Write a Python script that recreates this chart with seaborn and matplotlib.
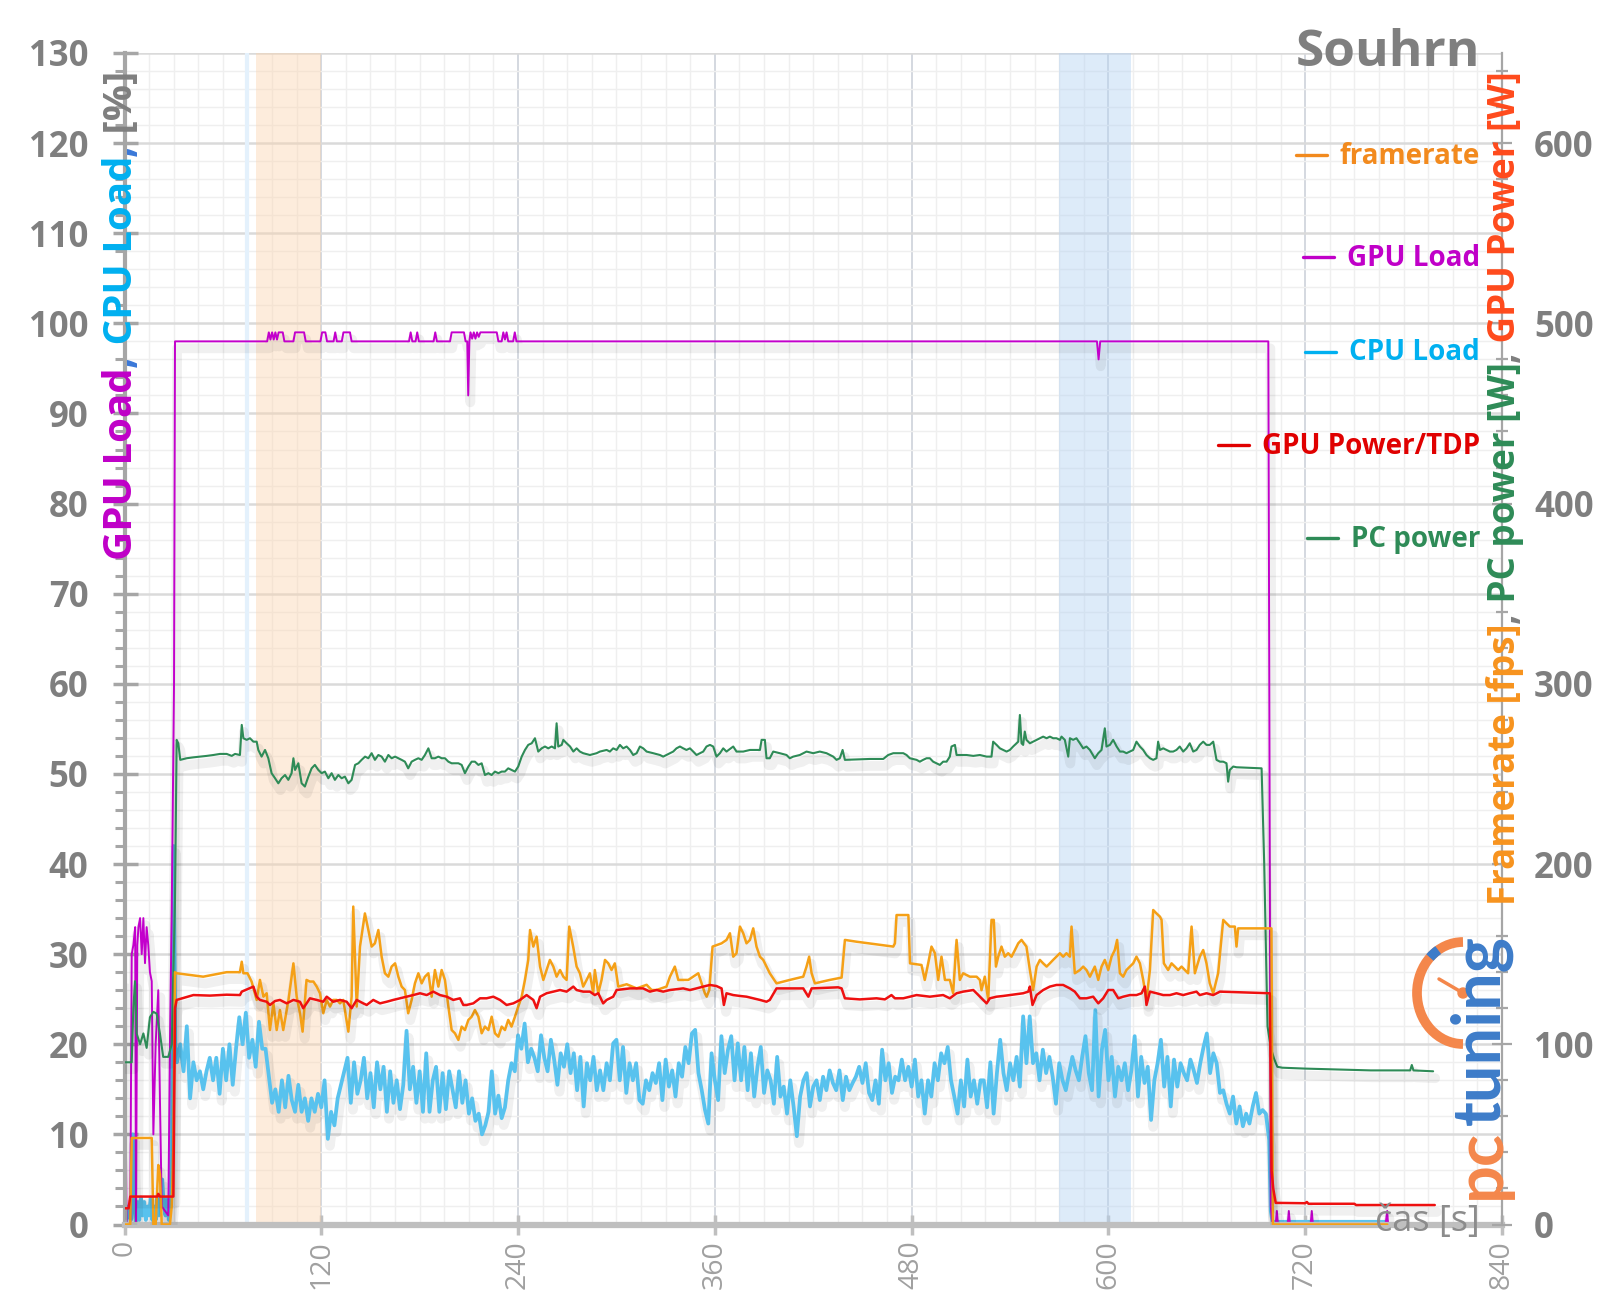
import numpy as np
import pandas as pd
import matplotlib
matplotlib.use("Agg")
import matplotlib.pyplot as plt
import seaborn as sns
from matplotlib.ticker import MultipleLocator, FixedLocator
from matplotlib.transforms import IdentityTransform
import matplotlib.patches as mpatches
import matplotlib.patheffects as pe
from matplotlib.lines import Line2D

# ---------------- DATA ----------------
# GPU Load [%] (time s, value)
gpu_load_pts = [
    (0, 27), (1.3, 0), (3.5, 0), (4.4, 30), (5.4, 31), (6.5, 33), (7, 0), (7.8, 31), (8.5, 33), (9.5, 34),
    (10.5, 30), (11.5, 34), (12.5, 29), (13.5, 33), (14.5, 31), (15.5, 28), (16.6, 27), (17.6, 10), (19, 20),
    (20.6, 26), (21.6, 14), (22.7, 2), (26.7, 1), (27.7, 20), (28.8, 35), (30.2, 60), (30.8, 98),
    (87, 98), (88, 99), (89, 98.2), (90, 99), (91, 98.2), (92, 99), (93, 98.2), (94, 99), (96.5, 99), (97.5, 98),
    (103, 98), (104, 99), (109.5, 99), (110.5, 98),
    (119.5, 98), (120.5, 99), (122.5, 99), (123.5, 98), (127.5, 98), (128.5, 99), (129.5, 98), (132.5, 98),
    (133.5, 99), (137.5, 99), (138.5, 98),
    (173.5, 98), (174.5, 99), (175.5, 98), (177.5, 98), (178.5, 99), (179.5, 98), (188.5, 98), (189.5, 99), (190.5, 98),
    (198.5, 98), (199.5, 99), (207, 99), (208, 98), (209, 98), (209.6, 92), (210.3, 98), (211, 99), (212, 98.3),
    (213, 99), (214, 98.3), (215, 99), (216, 98.5), (217, 99), (227, 99), (228, 98), (230, 98), (231, 99),
    (232, 98.2), (233, 99), (234, 98), (237, 98), (238, 99), (239, 98),
    (593, 98), (594, 96), (595, 98), (697.5, 98), (699, 2), (700, 0), (702, 0), (702.7, 1.5), (703.4, 0),
    (709.3, 0), (710, 1.5), (710.7, 0), (723.3, 0), (724, 1.5), (724.7, 0), (769, 0), (770, 1.5), (770.5, 0),
]

# CPU Load [%]: start-up part (time s, value)
cpu_start_pts = [
    (0, 3), (1, 0), (2, 2), (3, 1), (4, 0.5), (5, 10), (6, 2), (7, 0), (8, 2.5), (9, 0.5), (10, 3), (11, 1),
    (12, 2.5), (13, 0.5), (14, 2), (15, 1), (16, 3), (17, 0.5), (18, 2), (19, 0.5), (20, 3), (21, 1), (22, 2.5),
    (23, 5), (24, 2), (25, 1), (26, 3), (27, 0.5), (28, 3), (29, 25), (30, 42), (31, 20),
]
# CPU Load [%]: main part, one reading every 2 s from 32 s
cpu_main_start = 32
cpu_main_step = 2
cpu_main = [
    18, 20, 17, 22, 14, 18, 16, 17, 15, 17,
    18.5, 16, 18.5, 14.5, 19.5, 16, 20, 15.5, 19.5, 23,
    20, 23.5, 18.5, 20.5, 17.5, 22.5, 19.5, 19.5, 16.5, 13.5,
    15, 12.5, 16, 13, 16.5, 13.8, 12.5, 15.5, 12.5, 14,
    11.5, 14, 12.5, 14.5, 13, 16, 9.5, 12.5, 11, 14,
    15.5, 17, 18.5, 13.5, 18, 14.5, 16, 18.5, 14, 16.8,
    13, 18, 15, 17.5, 12.5, 17, 13.5, 16, 12.8, 15.5,
    21.5, 15, 17.5, 13.5, 17, 12.5, 19, 12.5, 16, 17.5,
    12.5, 16.8, 12.8, 17, 15, 13, 17, 13.5, 16, 12.3,
    14, 11.5, 12.3, 10, 11, 12.5, 17, 12.3, 14.3, 11.8,
    13, 16, 17.9, 17, 21, 19.5, 22.3, 18, 19.5, 18.5,
    17, 21, 18.5, 17, 20.5, 18.3, 15.5, 19, 17.5, 20,
    16.8, 19, 14.9, 18.6, 13.1, 17.9, 16, 18.6, 14.9, 17.1,
    14.9, 17.9, 16, 20.1, 20.5, 16, 19.7, 14.6, 17.9, 16,
    17.9, 13.8, 13.4, 16, 14.9, 16.8, 15.7, 17.9, 13.8, 18.3,
    15.3, 17.1, 14.2, 17.9, 16.4, 19.7, 17.9, 21.2, 21.6, 16.8,
    14.9, 12.7, 11.2, 19, 16, 13.8, 20.9, 16.8, 19.4, 20.9,
    16, 20.1, 16, 19.7, 14.9, 19, 14.2, 17.5, 19.7, 14.6,
    17.1, 16, 13.4, 18.6, 14.2, 15.3, 12.3, 16, 13.1, 9.8,
    14.2, 16, 16.8, 13.1, 15.3, 16, 13.8, 16.4, 14.9, 17.1,
    15.7, 14.9, 17.1, 13.8, 16.4, 14.9, 15.7, 16.4, 17.5, 15.7,
    17.9, 14.6, 13.8, 16, 13.4, 19.4, 16, 17.9, 14.6, 16.4,
    16, 18.3, 16, 17.5, 15.3, 18.3, 14.2, 16, 12.3, 16,
    14.2, 17.9, 16, 19, 17.9, 19.7, 16, 14.2, 12.3, 16,
    13.1, 18.3, 14.2, 16, 13.4, 16,
    16, 13, 18, 12.3, 16.8, 20.5, 16.8, 14.9, 17.9, 16,
    18.6, 15.3, 23.1, 17.9, 23.1, 17.9, 19, 16, 19.4, 16.8,
    18.6, 16.4, 13.4, 17.9, 16, 14.9, 16.8, 18.6, 17.1, 16,
    18.6, 20.9, 16.8, 14.9, 23.8, 14.2, 19.4, 21.6, 16, 18.6,
    14.2, 17.5, 16, 17.9, 14.9, 17.1, 20.9, 14.2, 18.6, 15.7,
    17.5, 11.6, 16, 17.9, 20.5, 15.3, 18.6, 13.1, 18.3, 15.3,
    17.9, 16.8, 16, 18.3, 17.1, 15.7, 17.9, 19.7, 21.2, 16.8,
    19, 17.9, 14.6, 14.9, 13.4, 12.3, 14.2, 11.2, 13.1, 10.9,
    12.3, 11.2, 13.1, 14.6, 12.3, 12.7, 12.3, 9.4,
]
cpu_end_pts = [(699, 1.5), (700, 0.3), (770, 0.3)]

# framerate [fps] (time s, value)
framerate_pts = [
    (0, 0), (3.5, 0), (4.4, 48), (16.6, 48), (17.6, 0), (19, 0), (20.6, 33), (21.6, 28), (22.7, 0), (27.7, 0),
    (28.8, 10), (29.8, 44), (30.8, 140),
    (31.8, 139.4), (48, 137.5), (62.3, 140), (70.4, 140), (71.5, 145.8), (72.5, 139.4), (75, 139.4),
    (77.5, 134.8), (80.6, 124.6), (82.6, 135.7), (84.7, 126.4), (86.7, 128.3), (88.7, 107.9), (90.8, 122.7),
    (92.8, 107.9), (94.8, 119), (96.8, 107.9), (100, 124.6), (103, 144.9), (105, 126.4), (107, 117.2),
    (108.6, 107), (111, 135.7), (113, 134.8), (115.2, 134.8), (117.2, 132), (119.2, 128.3), (121.2, 117.2),
    (123.3, 124.6), (125.3, 120.9), (127.3, 124.6), (129.4, 124.6), (131.4, 122.7), (133.4, 124.6),
    (136.5, 107), (138.5, 126.4), (139.5, 176.4), (141.6, 120.9), (143.6, 154.2), (146.6, 172.6),
    (148.7, 163.4), (150.7, 154.2), (152.7, 156), (154.8, 163.4), (156.8, 148.6), (158.8, 139.4),
    (160.9, 137.5), (162.9, 143.1), (165, 144.9), (167, 137.5), (169, 132), (171, 130.1), (173, 117.2),
    (175.1, 124.6), (177.1, 133.8), (179.2, 139.4), (181.2, 133.8), (183.2, 137.5), (185.3, 139.4),
    (187.3, 126.4), (189.3, 141.2), (191.4, 132), (193.4, 141.2), (195.4, 135.7), (197.5, 120.9),
    (199.5, 107.9), (201.5, 106.1), (203.6, 102.4), (205.6, 109.8), (207.6, 107.9), (209.7, 113.5),
    (211.7, 115.3), (213.7, 119), (215.8, 115.3), (217.8, 106.1), (219.8, 109.8), (221.9, 107.9),
    (223.9, 115.3), (225.9, 106.1), (228, 104.2), (230, 109.8), (232, 107.9), (234, 113.5), (236, 109.8),
    (238.1, 115.3), (240.1, 120.9), (242.2, 126.4), (244.2, 135.7), (246.2, 146.8), (247.3, 163.4),
    (249.3, 154.2), (251.3, 159.7), (253.4, 143.1), (255.4, 135.7), (257.4, 141.2), (259.4, 146.8),
    (261.5, 143.1), (263.5, 137.5), (265.6, 141.2), (267.6, 137.5), (269.6, 135.7), (271.2, 165.3),
    (273.6, 154.2), (275.7, 143.1), (277.7, 139.4), (279.7, 132), (281.8, 135.7), (283.8, 139.4),
    (285.8, 128.3), (286.8, 141.2), (288.9, 128.3), (290.9, 135.7), (293, 146.8), (295, 144.9),
    (297, 141.2), (299, 144.9), (301.1, 132), (306.2, 133.3), (312.3, 131), (318.4, 133), (321.4, 130.1),
    (324.4, 130.1), (330.5, 132), (332.6, 137.5), (335.6, 143.1), (337.7, 135.7), (343.8, 135.7),
    (349.9, 139.4), (351.9, 133.8), (353.9, 128.3), (355, 126.4), (356.6, 130.1), (358.6, 154.2),
    (364.1, 156), (367.1, 157.9), (369.2, 161.6), (371.2, 148.6), (373.2, 150.5), (375.3, 165.3),
    (377.3, 161.6), (379.3, 156), (381.4, 157.9), (383.4, 164.3), (385.4, 154.2), (387.5, 148.6),
    (389.5, 146.8), (391.5, 143.1), (393.5, 139.4), (397.6, 133.8), (405.7, 135.7), (413.9, 137.5),
    (415.9, 143.1), (417.5, 148.6), (419, 139.4), (421, 133.8), (430.1, 135.7), (437.3, 137),
    (439.3, 157.9), (446.4, 156.9), (468.8, 154.2), (469.8, 156), (470.8, 171.7), (478, 171.7),
    (479, 144.9), (486, 144), (488, 135.7), (490.1, 144.9), (492.1, 154.2), (494.2, 150.5), (496.2, 135.7),
    (498.2, 148.6), (500.3, 135.7), (503.3, 135.7), (505.3, 128.3), (507.4, 157.9), (509.4, 135.7),
    (511.4, 139.4), (515.5, 137.5), (519.6, 137.5), (521.6, 135.7), (522.6, 130), (524.6, 137.5),
    (526.7, 124.6), (528.7, 169), (530.1, 169), (531.4, 143.1), (532.8, 148.6), (534.8, 154.2),
    (536.8, 148.6), (538.9, 150.5), (540.9, 148.6), (543, 152.3), (545, 156), (547, 157.9), (550, 154.2),
    (552.1, 141.2), (554.1, 130.1), (556.2, 143.1), (558.2, 146.8), (560.2, 144.9), (562.3, 143.1),
    (564.3, 144.9), (566.3, 146.8), (568.3, 148.6), (570.4, 150.5), (572.4, 148.6), (574.4, 150.5),
    (576.5, 148.6), (577.5, 165.3), (579.5, 139.4), (582.6, 141.2), (584.6, 143.1), (586.6, 141.2),
    (588.7, 137.5), (591.7, 143.1), (593.8, 135.7), (595.8, 143.1), (597.8, 146.8), (599.9, 141.2),
    (601.9, 148.6), (603.9, 152.3), (605.3, 157.9), (607, 139.4), (609, 137.5), (611, 141.2),
    (613.1, 143.1), (615.1, 144.9), (617.1, 148.6), (619.2, 144.9), (621.2, 135.7), (623.2, 124.6),
    (625.3, 141.2), (627.3, 174.5), (629.3, 172.6), (631.4, 170.8), (632.4, 169), (633.8, 144.9),
    (636.4, 141.2), (638.5, 144.9), (640.5, 143.1), (642.5, 141.2), (644.6, 143.1), (646.6, 141.2),
    (648.6, 139.4), (650.7, 165.3), (652.7, 139.4), (655.7, 148.6), (657.8, 152.3), (659.8, 144.9),
    (661.8, 133.8), (663.9, 128.3), (666.9, 139.4), (670, 169), (672, 167.1), (674, 165.3),
    (677.1, 165.3), (678.1, 154.2), (679.1, 164.3), (699.4, 164.3), (700.3, 0), (770, 0),
]

# GPU Power [W] (time s, value)
gpu_power_pts = [
    (0, 9), (2.5, 9), (3.5, 15.5), (20, 15.5), (20.6, 17), (21.6, 15.5), (29.8, 15.5), (30.8, 120),
    (31.8, 124.6), (42, 127.3), (52.1, 127), (62.3, 127.5), (70.4, 127.3), (71.5, 129.2), (78.6, 132),
    (80.6, 126.4), (82.6, 124.6), (86.7, 123.6), (88.7, 121.8), (91.8, 124), (94.8, 124.6), (98.9, 122.7),
    (103, 124.6), (107, 123.6), (109, 120), (113.1, 125.5), (117.2, 124.6), (121.2, 123.6), (123.3, 126.4),
    (127.3, 123.6), (131.4, 124.6), (135.5, 123.6), (138.5, 120), (141.6, 124.6), (145.6, 122.7),
    (147.7, 121.8), (151.7, 124.6), (155.8, 122.7), (159.9, 123.6), (163.9, 124.6), (168, 125.5),
    (172, 126.4), (176.1, 127.3), (180.2, 128.3), (184.3, 127.3), (188.3, 129.2), (192.4, 127.3),
    (196.5, 126.4), (200.5, 124.6), (204.6, 125.5), (206.6, 121.8), (208.6, 121.8), (212.7, 122.7),
    (216.8, 125.5), (220.8, 125.5), (224.9, 126.4), (229, 124.6), (233, 121.8), (237.1, 122.7),
    (241.2, 124.6), (245.2, 127.3), (249.3, 124.6), (251.3, 120), (253.4, 126.4), (257.4, 128.3),
    (261.5, 129.2), (265.6, 130.1), (269.6, 129.2), (273.7, 132), (275.7, 130.1), (279.7, 129.2),
    (283.8, 129.2), (286.8, 127.3), (288.9, 128.3), (290.9, 124.6), (291.9, 122.7), (294, 124.6),
    (296, 125.5), (298, 126.4), (300.1, 130.1), (308.2, 131), (316.3, 131), (320.4, 129.2), (324.4, 130.1),
    (328.5, 129.2), (332.6, 130.1), (340.7, 131), (344.8, 130.1), (348.8, 131), (352.9, 132), (357, 132.9),
    (361, 132.3), (364.1, 131), (365.5, 121.8), (367.1, 128.3), (371.2, 127.3), (375.3, 126.8),
    (379.3, 126.4), (383.4, 125.5), (387.5, 124.6), (391.5, 123.6), (393.5, 124.6), (397.6, 131),
    (413.9, 131), (417, 126.4), (419, 131), (435.2, 131.6), (437.3, 131), (439.3, 125.5), (448.4, 124.9),
    (458.6, 125.5), (463.7, 124.9), (467.7, 127.3), (469.8, 125.5), (474.9, 125.5), (478.9, 126.4),
    (483, 127.3), (491.1, 126.4), (499.2, 127.3), (503.3, 125.5), (507.4, 128.3), (511.4, 129.2),
    (517.6, 130.1), (519.6, 128.3), (523.6, 124.6), (525.7, 122.7), (527.7, 125.5), (531.8, 126.4),
    (535.8, 126.8), (539.9, 127.3), (544, 127.8), (548, 128.3), (551.1, 129.2), (552.1, 132),
    (553.7, 121.8), (556.2, 127.3), (560.2, 130.1), (564.3, 132), (568.3, 132.9), (572.4, 132.9),
    (576.5, 131), (579.5, 129.2), (582.6, 125.5), (586.6, 125.5), (590.7, 126.4), (593.8, 122.7),
    (596.8, 125.5), (599.9, 130.1), (602.9, 130.1), (606, 125.5), (609, 126.4), (613.1, 127.3),
    (617.1, 127.3), (620.2, 128.3), (622.2, 132), (623.2, 121.8), (625.3, 129.2), (629.3, 128.3),
    (633.4, 127.3), (637.5, 127.3), (641.5, 128.3), (645.6, 127.3), (649.6, 128.3), (653.7, 129.2),
    (655.7, 127.3), (659.8, 128.3), (663.9, 127.3), (668, 129.2), (698.4, 128.3), (699.5, 30),
    (700.5, 20), (702, 12), (720, 11.8), (721, 12.5), (722, 11.5), (750, 11.5), (751, 10.8), (799, 10.8),
]

# PC power [W] (time s, value)
pc_power_pts = [
    (0, 90), (4.4, 90), (5.4, 120), (6.4, 135), (7.4, 106), (9.5, 100), (11.5, 106), (13.5, 98), (15.5, 115),
    (17.6, 118), (19.6, 117), (21.6, 106), (23.6, 93), (26.7, 93), (28.8, 100), (30.8, 180),
    (31.8, 268.9), (32.8, 267), (34, 257.8), (37.9, 258.7), (42, 259.2), (46, 259.6), (50.1, 260),
    (54.2, 260.5), (58.2, 261.1), (62.3, 261.1), (65.4, 260), (67.4, 261.1), (70.4, 260.5), (71.5, 277.2),
    (72.5, 269.8), (74.5, 268.9), (76.5, 269.8), (78.6, 267.9), (80.6, 267.9), (81.6, 263.3), (83.6, 259.6),
    (85.7, 263.3), (87.7, 258.7), (89.7, 250.4), (91.8, 247.6), (93.8, 244.8), (95.8, 247.6), (97.9, 249.4),
    (99.9, 246.7), (101.9, 250.4), (103, 258.7), (104, 252.2), (106, 255.9), (108, 244.8), (110, 243),
    (112.1, 248.5), (114.1, 253.1), (116.1, 255), (118.2, 252.2), (120.2, 250.4), (122.2, 251.3),
    (124.3, 247.6), (126.3, 250.4), (128.3, 246.7), (130.4, 249.4), (132.4, 247.6), (134.4, 248.5),
    (136.5, 244.8), (138.5, 246.7), (140.6, 255), (142.6, 255.9), (144.6, 257.8), (146.7, 259.6),
    (148.7, 258.7), (150.7, 261.5), (152.7, 257.8), (154.8, 260.5), (156.8, 259.6), (158.8, 256.8),
    (160.9, 260.5), (162.9, 258.7), (165, 259.6), (167, 258.7), (169, 257.8), (171, 256.8), (173, 253.1),
    (175.1, 256.8), (177.1, 257.8), (179.2, 258.7), (181.2, 257.8), (183.2, 260.5), (185.3, 264.2),
    (187.3, 258.7), (189.3, 258.7), (191.4, 259.6), (193.4, 258.7), (195.4, 258.7), (197.5, 256.8),
    (199.5, 255.9), (201.5, 255.9), (203.6, 255.9), (205.6, 255), (207.6, 250.4), (209.7, 254.1),
    (211.7, 256.8), (213.7, 256.8), (215.8, 255), (217.8, 255.9), (219.8, 249.4), (221.9, 250.4),
    (223.9, 249.4), (225.9, 251.3), (228, 250.4), (230, 251.3), (232, 251.3), (234, 253.1), (236, 252.2),
    (238.1, 251.3), (240.1, 254.1), (242.2, 259.6), (244.2, 263.3), (246.2, 266.1), (248.3, 267),
    (250.3, 269.8), (252.3, 262.4), (254.4, 264.2), (256.4, 265.2), (258.4, 264.2), (260.5, 265.2),
    (262.5, 264.2), (263.5, 278.1), (264.5, 265.2), (266.6, 266.1), (267.6, 268.9), (269.6, 267),
    (271.7, 265.2), (273.7, 262.4), (275.7, 264.2), (277.7, 262.4), (279.7, 261.5), (283.8, 260.5),
    (287.9, 261.5), (289.9, 262.4), (294, 263.3), (296, 262.4), (298, 264.2), (300.1, 263.3),
    (302.1, 266.1), (304.1, 264.2), (306.2, 265.2), (308.2, 263.3), (310.2, 260.5), (312.3, 261.5),
    (314.3, 265.2), (316.3, 264.2), (318.4, 262.4), (322.4, 261.5), (326.5, 260.5), (328.5, 259.6),
    (330.5, 260.5), (332.6, 261.5), (334.6, 262.4), (336.6, 264.2), (338.7, 265.2), (340.7, 264.2),
    (342.7, 263.3), (344.8, 264.2), (346.8, 262.4), (348.8, 260.5), (350.9, 261.5), (352.9, 262.4),
    (354.9, 265.2), (357, 266.1), (359, 265.2), (361, 259.6), (363.1, 261.5), (365.1, 264.2),
    (367.1, 262.4), (371.2, 265.2), (373.2, 262.4), (377.3, 262.4), (381.4, 263.3), (387.5, 263.3),
    (388.5, 268.9), (390.5, 268.9), (391.5, 258.7), (393.5, 258.7), (395.6, 262.4), (399.6, 261.5),
    (403.7, 260.5), (405.7, 258.7), (407.8, 259.6), (411.8, 260.5), (415.9, 262.4), (420, 261.5),
    (424, 262.4), (428.1, 261.5), (432.2, 259.6), (434.2, 257.8), (436.2, 258.7), (437.9, 263.3),
    (439.3, 257.8), (454.5, 258.3), (462.7, 258.3), (465.7, 260.5), (468.8, 261.5), (474.9, 261.5),
    (476.9, 260.5), (478.9, 258.7), (483, 257.8), (485, 256.8), (487, 257.8), (489.1, 258.7),
    (491.1, 258.7), (493.1, 256.8), (495.2, 255.9), (497.2, 255), (499.2, 256.8), (501.3, 256.8),
    (503.3, 259.6), (504.3, 265.2), (506.4, 266.1), (507.4, 260.5), (513.5, 260.5), (517.6, 260),
    (521.6, 260.5), (525.7, 259.6), (528.7, 259.6), (529.7, 267.9), (531.8, 266.1), (533.8, 264.2),
    (535.8, 263.3), (537.9, 262.4), (539.9, 263.3), (541.9, 265.2), (544, 267), (545, 267.9),
    (546, 282.7), (547, 267), (548, 266.1), (549, 273.5), (550, 268.9), (552.1, 267), (554.1, 267.9),
    (556.2, 268.9), (558.2, 269.8), (560.2, 270.7), (562.3, 269.8), (564.3, 270.7), (566.3, 269.8),
    (568.3, 269.8), (570.4, 268.9), (571.4, 270.7), (573.4, 268.9), (575.5, 259.6), (576.5, 269.8),
    (578.5, 268.9), (580.5, 269.8), (582.6, 267), (584.6, 264.2), (586.6, 265.2), (588.7, 263.3),
    (591.7, 258.7), (593.8, 261.5), (595.8, 263.3), (597.8, 275.3), (598.8, 265.2), (600.9, 266.1),
    (602.9, 268.9), (605, 265.2), (607, 262.4), (609, 262.4), (611, 261.5), (613.1, 262.4),
    (615.1, 263.3), (617.1, 267.9), (619.2, 265.2), (621.2, 263.3), (623.2, 260.5), (625.3, 258.7),
    (627.3, 257.8), (629.3, 258.7), (630.3, 267.9), (631.4, 263.3), (633.4, 264.2), (635.4, 263.3),
    (637.5, 262.4), (639.5, 262.4), (641.5, 263.3), (643.5, 265.2), (645.6, 262.4), (647.6, 264.2),
    (649.6, 267), (651.7, 262.4), (653.7, 263.3), (655.7, 266.1), (657.8, 267.9), (659.8, 266.1),
    (661.8, 266.1), (663.9, 267.9), (665.9, 257.8), (668, 256.8), (670, 256.8), (672, 255.9),
    (673, 245.7), (674, 252.2), (676.1, 254.1), (678.1, 253.7), (693.4, 253.1), (695, 200), (697, 110),
    (699, 98), (701, 92), (703, 87.5), (706, 87), (720, 86.5), (740, 86), (760, 85.5), (784, 85.5),
    (785, 88.5), (786, 85.5), (798, 85),
]

# highlighted intervals [s]
band_orange = (80, 120)
band_blue = (570, 614)
marker_line_t = 75

# axis ranges / ticks
x_ticks = [0, 120, 240, 360, 480, 600, 720, 840]
left_ticks = list(range(0, 131, 10))
right_ticks = list(range(0, 601, 100))

legend_items = [("framerate", "#f28a1e"), ("GPU Load", "#c000c8"), ("CPU Load", "#00b0f0"),
                ("GPU Power/TDP", "#e00000"), ("PC power", "#2e8b57")]

# ---------------- BUILD FRAMES ----------------
def pts_df(pts):
    return pd.DataFrame(pts, columns=["t", "v"])

df_gpu_load = pts_df(gpu_load_pts)
cpu_main_t = cpu_main_start + cpu_main_step * np.arange(len(cpu_main))
df_cpu = pd.concat([pts_df(cpu_start_pts),
                    pd.DataFrame({"t": cpu_main_t, "v": cpu_main}),
                    pts_df(cpu_end_pts)], ignore_index=True)
df_fps = pts_df(framerate_pts)
df_gpow = pts_df(gpu_power_pts)
df_pc = pts_df(pc_power_pts)

# ---------------- STYLE ----------------
sns.set_theme(style="white")
plt.rcParams['font.family'] = ['Open Sans', 'DejaVu Sans']

GRAY = "#7f7f7f"
W, H = 1600, 1313
fig = plt.figure(figsize=(W / 100, H / 100), dpi=100)
fig.patch.set_facecolor("white")

x0, x1 = 124.5, 1502.0
y_top, y_bot = 53.0, 1224.5
ax = fig.add_axes([x0 / W, (H - y_bot) / H, (x1 - x0) / W, (y_bot - y_top) / H])
ax2 = ax.twinx()

ax.set_xlim(0, 840)
ax.set_ylim(0, 130)
ax2.set_ylim(0, 650)

# grid
ax.xaxis.set_major_locator(FixedLocator(x_ticks))
ax.xaxis.set_minor_locator(MultipleLocator(15))
ax.yaxis.set_major_locator(FixedLocator(left_ticks))
ax.yaxis.set_minor_locator(MultipleLocator(2))
ax.set_axisbelow(True)
ax.grid(which="minor", axis="both", color="#efefef", lw=1.0)
ax.yaxis.grid(True, which="major", color="#dadada", lw=1.8)
ax.xaxis.grid(True, which="major", color="#d4d8e0", lw=1.4)

# bands
ax.axvspan(*band_orange, color="#fbd3ad", alpha=0.42, lw=0, zorder=0.8)
ax.axvspan(*band_blue, color="#b5d3f3", alpha=0.45, lw=0, zorder=0.8)
ax.axvline(marker_line_t, color="#e4f1fc", lw=3, zorder=0.9)

# lines (with a soft drop shadow like the original)
def shadow():
    return [pe.SimpleLineShadow(offset=(1.5, -5), shadow_color="#000000", alpha=0.06, linewidth=7), pe.Normal()]

kw = dict(estimator=None, sort=False, legend=False)
sns.lineplot(data=df_cpu, x="t", y="v", ax=ax, color="#58c2ee", lw=2.7, **kw)
sns.lineplot(data=df_gpu_load, x="t", y="v", ax=ax, color="#c300cc", lw=1.4, **kw)
sns.lineplot(data=df_pc, x="t", y="v", ax=ax2, color="#2e8b57", lw=1.5, **kw)
sns.lineplot(data=df_fps, x="t", y="v", ax=ax2, color="#f5a016", lw=1.8, **kw)
sns.lineplot(data=df_gpow, x="t", y="v", ax=ax2, color="#ee1010", lw=1.8, **kw)
for a in (ax, ax2):
    for ln in a.get_lines():
        if len(ln.get_xdata()) > 10:
            ln.set_path_effects(shadow())

for a in (ax, ax2):
    a.set_xlabel("")
    a.set_ylabel("")

# spines
ax.spines["top"].set_visible(False)
ax2.spines["top"].set_visible(False)
ax.spines["right"].set_visible(False)
ax2.spines["left"].set_visible(False)
ax2.spines["bottom"].set_visible(False)
ax.spines["left"].set_color("#a6a6a6")
ax.spines["left"].set_linewidth(3)
ax.spines["bottom"].set_color("#bfbfbf")
ax.spines["bottom"].set_linewidth(4.5)
ax2.spines["right"].set_color("#a6a6a6")
ax2.spines["right"].set_linewidth(1.6)

# ticks
ax.tick_params(axis="y", which="major", direction="inout", length=18, width=2.5, color="#a6a6a6",
               pad=17, labelsize=25, labelcolor=GRAY, left=True)
ax.tick_params(axis="y", which="minor", direction="out", length=7, width=2.2, color="#a6a6a6", left=True)
ax.tick_params(axis="x", which="major", direction="inout", length=14, width=2.5, color="#bfbfbf",
               pad=4, labelsize=20.5, labelcolor="#a0a0a0", bottom=True, labelrotation=90)
ax.tick_params(axis="x", which="minor", bottom=False)
for lab in ax.get_yticklabels():
    lab.set_fontweight("bold")
ax2.yaxis.set_major_locator(FixedLocator(right_ticks))
ax2.yaxis.set_minor_locator(MultipleLocator(20))
ax2.tick_params(axis="y", which="major", direction="inout", length=14, width=1.6, color="#a6a6a6",
                pad=16, labelsize=25, labelcolor=GRAY, right=True)
ax2.tick_params(axis="y", which="minor", direction="inout", length=8, width=1.6, color="#a6a6a6", right=True)
for lab in ax2.get_yticklabels():
    lab.set_fontweight("bold")

# ---------------- TEXT ----------------
PX = IdentityTransform()
renderer = fig.canvas.get_renderer()


def text_width(s, size, weight="bold", family=None):
    kw_ = {} if family is None else {"family": family}
    t = fig.text(0, 0, s, fontsize=size, fontweight=weight, transform=PX, **kw_)
    w = t.get_window_extent(renderer).width
    t.remove()
    return w


def vertical_label(pieces, x_base, y_top_px, size, weight="bold"):
    widths = [text_width(s, size, weight) for s, c in pieces]
    y = y_top_px - sum(widths)
    for (s, c), w in zip(pieces, widths):
        fig.text(x_base, y, s, color=c, fontsize=size, fontweight=weight, rotation=90,
                 rotation_mode="anchor", ha="left", va="baseline", transform=PX)
        y += w


vertical_label([("GPU Load", "#c000c8"), (",", "#3a78d8"), (" CPU Load", "#00b0f0"),
                (",", "#3a78d8"), (" [%]", GRAY)], 132, H - 71, 29)
vertical_label([("Framerate [fps]", "#f7931e"), (",", GRAY), (" PC power [W]", "#2e8b57"),
                (",", GRAY), (" GPU Power [W]", "#ff4a1c")], 1515, H - 71, 26.5)

fig.text(1480, H - 66, "Souhrn", fontsize=37, fontweight="bold", color=GRAY, ha="right",
         va="baseline", transform=PX)

# legend: coloured short line + text, right aligned
legend_y = [156, 258, 353, 446, 539]
for (name, col), yy in zip(legend_items, legend_y):
    w = text_width(name, 20)
    fig.text(1480, H - yy, name, fontsize=20, fontweight="bold", color=col,
             ha="right", va="center", transform=PX)
    xr = 1480 - w - 13
    fig.add_artist(Line2D([xr - 31, xr], [H - yy + 1, H - yy + 1], transform=PX, color=col, lw=2.4))

fig.text(1480, H - 1222, "čas [s]", fontsize=26, color="#8c8c8c", ha="right", va="center",
         transform=PX)

# logo (pctuning)
LOGO_FAM = ["Lato", "DejaVu Sans"]
LOGO_SIZE = 48
w_pc = text_width("pc", LOGO_SIZE, "bold", LOGO_FAM)
fig.text(1500, H - 1199, "pc", fontsize=LOGO_SIZE, fontweight="bold", family=LOGO_FAM,
         color="#f4874b", rotation=90, rotation_mode="anchor", ha="left", va="baseline", transform=PX)
fig.text(1500, H - 1199 + w_pc + 4, "tuning", fontsize=LOGO_SIZE, fontweight="bold",
         family=LOGO_FAM, color="#3d7cc9", rotation=90, rotation_mode="anchor",
         ha="left", va="baseline", transform=PX)
cx, cy = 1463, H - 993
fig.add_artist(mpatches.Arc((cx, cy), 92, 102, theta1=90, theta2=270, transform=PX,
                            color="#f4874b", lw=7))
fig.add_artist(mpatches.Arc((cx, cy), 92, 102, theta1=120, theta2=133, transform=PX,
                            color="#3d7cc9", lw=7))
fig.add_artist(Line2D([1439, cx], [H - 979, cy], transform=PX, color="#f4874b", lw=2.5))
fig.add_artist(mpatches.Circle((cx, cy), 5, transform=PX, color="#f4874b"))

fig.savefig("out.png", dpi=100)
